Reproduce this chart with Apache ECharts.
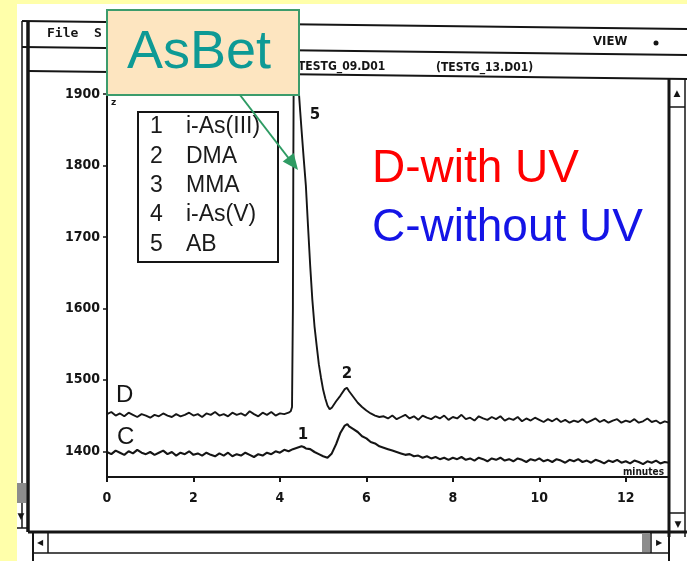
<!DOCTYPE html>
<html>
<head>
<meta charset="utf-8">
<script src="https://cdn.jsdelivr.net/npm/echarts@6/dist/echarts.min.js"></script>
<style>
  html, body { margin: 0; padding: 0; background: #ffffaa; }
  #chart { width: 687px; height: 561px; }
</style>
</head>
<body>
<div id="chart"></div>
<script>
// tick labels
const xTicks = [0, 2, 4, 6, 8, 10, 12]
const yTicks = [1400, 1500, 1600, 1700, 1800, 1900]

// peak list shown in the box
const peakNo = ['1', '2', '3', '4', '5']
const peakName = ['i-As(III)', 'DMA', 'MMA', 'i-As(V)', 'AB']

// trace D (with UV) : [minutes, signal]
const traceD = [
  [0.0, 1452], [0.1, 1455], [0.2, 1450], [0.3, 1453], [0.4, 1449], [0.5, 1454], [0.6, 1451], [0.7, 1448],
  [0.8, 1452], [0.9, 1450], [1.0, 1447], [1.1, 1451], [1.2, 1449], [1.3, 1453], [1.4, 1450], [1.5, 1448],
  [1.6, 1452], [1.7, 1449], [1.8, 1451], [1.9, 1454], [2.0, 1450], [2.1, 1452], [2.2, 1448], [2.3, 1453],
  [2.4, 1451], [2.5, 1455], [2.6, 1450], [2.7, 1452], [2.8, 1449], [2.9, 1454], [3.0, 1451], [3.1, 1453],
  [3.2, 1450], [3.3, 1456], [3.4, 1452], [3.5, 1449], [3.6, 1454], [3.7, 1451], [3.8, 1455], [3.9, 1450],
  [4.0, 1453], [4.1, 1452], [4.2, 1454], [4.25, 1456], [4.28, 1462], [4.30, 1600], [4.31, 1800],
  [4.32, 1950], [4.36, 2010], [4.40, 1960], [4.43, 1910], [4.47, 1875], [4.50, 1850], [4.55, 1810],
  [4.60, 1772], [4.65, 1715], [4.70, 1660], [4.75, 1612], [4.80, 1575], [4.85, 1548], [4.90, 1522],
  [4.95, 1503], [5.00, 1486], [5.05, 1474], [5.10, 1464], [5.15, 1459], [5.20, 1461], [5.30, 1470],
  [5.40, 1478], [5.50, 1487], [5.55, 1489], [5.60, 1484], [5.70, 1476], [5.80, 1468], [5.90, 1462],
  [6.0, 1457], [6.1, 1453], [6.2, 1450], [6.3, 1448], [6.4, 1449], [6.5, 1446], [6.6, 1450], [6.7, 1445],
  [6.8, 1448], [6.9, 1451], [7.0, 1446], [7.1, 1449], [7.2, 1444], [7.3, 1450], [7.4, 1447], [7.5, 1445],
  [7.6, 1449], [7.7, 1446], [7.8, 1450], [7.9, 1444], [8.0, 1448], [8.1, 1446], [8.2, 1451], [8.3, 1445],
  [8.4, 1447], [8.5, 1443], [8.6, 1449], [8.7, 1446], [8.8, 1444], [8.9, 1448], [9.0, 1445], [9.1, 1449],
  [9.2, 1443], [9.3, 1446], [9.4, 1444], [9.5, 1448], [9.6, 1442], [9.7, 1446], [9.8, 1443], [9.9, 1447],
  [10.0, 1444], [10.1, 1441], [10.2, 1445], [10.3, 1442], [10.4, 1446], [10.5, 1441], [10.6, 1444],
  [10.7, 1440], [10.8, 1443], [10.9, 1441], [11.0, 1445], [11.1, 1440], [11.2, 1443], [11.3, 1446],
  [11.4, 1441], [11.5, 1444], [11.6, 1440], [11.7, 1443], [11.8, 1445], [11.9, 1440], [12.0, 1443],
  [12.1, 1441], [12.2, 1445], [12.3, 1440], [12.4, 1442], [12.5, 1446], [12.6, 1441], [12.7, 1443],
  [12.8, 1439], [12.9, 1442], [13.0, 1440]
]

// trace C (without UV)
const traceC = [
  [0.0, 1399], [0.1, 1396], [0.2, 1401], [0.3, 1398], [0.4, 1395], [0.5, 1400], [0.6, 1397], [0.7, 1402],
  [0.8, 1398], [0.9, 1396], [1.0, 1399], [1.1, 1395], [1.2, 1398], [1.3, 1401], [1.4, 1396], [1.5, 1399],
  [1.6, 1394], [1.7, 1398], [1.8, 1396], [1.9, 1400], [2.0, 1395], [2.1, 1397], [2.2, 1394], [2.3, 1398],
  [2.4, 1395], [2.5, 1393], [2.6, 1397], [2.7, 1394], [2.8, 1398], [2.9, 1393], [3.0, 1396], [3.1, 1394],
  [3.2, 1398], [3.3, 1395], [3.4, 1392], [3.5, 1396], [3.6, 1394], [3.7, 1398], [3.8, 1396], [3.9, 1400],
  [4.0, 1398], [4.1, 1402], [4.2, 1400], [4.3, 1403], [4.4, 1405], [4.5, 1407], [4.55, 1406], [4.6, 1404],
  [4.7, 1403], [4.8, 1399], [4.9, 1396], [5.0, 1393], [5.1, 1391], [5.2, 1397], [5.3, 1410], [5.4, 1426],
  [5.5, 1436], [5.56, 1438], [5.6, 1435], [5.7, 1431], [5.8, 1427], [5.9, 1421], [6.0, 1418], [6.1, 1413],
  [6.2, 1411], [6.3, 1407], [6.4, 1405], [6.5, 1403], [6.6, 1401], [6.7, 1399], [6.8, 1397], [6.9, 1395],
  [7.0, 1396], [7.1, 1393], [7.2, 1394], [7.3, 1391], [7.4, 1393], [7.5, 1390], [7.6, 1392], [7.7, 1389],
  [7.8, 1391], [7.9, 1388], [8.0, 1391], [8.1, 1389], [8.2, 1392], [8.3, 1388], [8.4, 1390], [8.5, 1387],
  [8.6, 1391], [8.7, 1389], [8.8, 1386], [8.9, 1390], [9.0, 1388], [9.1, 1391], [9.2, 1387], [9.3, 1389],
  [9.4, 1386], [9.5, 1390], [9.6, 1388], [9.7, 1385], [9.8, 1389], [9.9, 1387], [10.0, 1390], [10.1, 1386],
  [10.2, 1388], [10.3, 1385], [10.4, 1389], [10.5, 1387], [10.6, 1384], [10.7, 1388], [10.8, 1386],
  [10.9, 1389], [11.0, 1385], [11.1, 1387], [11.2, 1384], [11.3, 1388], [11.4, 1386], [11.5, 1383],
  [11.6, 1387], [11.7, 1385], [11.8, 1388], [11.9, 1384], [12.0, 1386], [12.1, 1383], [12.2, 1387],
  [12.3, 1385], [12.4, 1382], [12.5, 1386], [12.6, 1384], [12.7, 1387], [12.8, 1383], [12.9, 1385],
  [13.0, 1384]
]

const ink = '#151515'
const tickFont = 'DejaVu Sans Condensed'

// window frame of the scanned screenshot
const chrome = [
  { type: 'rect', z: -50, shape: { x: 17, y: 4, width: 670, height: 557 }, style: { fill: '#fff' } },
  // left scroll column
  { type: 'line', shape: { x1: 22, y1: 21, x2: 22, y2: 528 }, style: { stroke: ink, lineWidth: 1.5 } },
  { type: 'line', shape: { x1: 28, y1: 21, x2: 28, y2: 532 }, style: { stroke: ink, lineWidth: 3.5 } },
  { type: 'rect', shape: { x: 17, y: 483, width: 9, height: 20 }, style: { fill: '#8c8c8c' } },
  { type: 'line', shape: { x1: 17, y1: 528, x2: 28, y2: 528 }, style: { stroke: ink, lineWidth: 1.5 } },
  { type: 'text', x: 21, y: 517, style: { text: '▼', font: '9px DejaVu Sans', fill: ink, textAlign: 'center', textVerticalAlign: 'middle', align: 'center', verticalAlign: 'middle' } },
  // menu and title rows (scan is slightly tilted)
  { type: 'line', shape: { x1: 22, y1: 21, x2: 687, y2: 29 }, style: { stroke: ink, lineWidth: 2 } },
  { type: 'line', shape: { x1: 22, y1: 47, x2: 687, y2: 55 }, style: { stroke: ink, lineWidth: 2 } },
  { type: 'line', shape: { x1: 28, y1: 71, x2: 687, y2: 79 }, style: { stroke: ink, lineWidth: 2 } },
  { type: 'text', x: 47, y: 34, style: { text: 'File  S', font: 'bold 13px DejaVu Sans Mono', fill: ink, textVerticalAlign: 'middle', verticalAlign: 'middle' } },
  { type: 'text', x: 593, y: 42, style: { text: 'VIEW', font: 'bold 13px DejaVu Sans Condensed', fill: ink, textVerticalAlign: 'middle', verticalAlign: 'middle' } },
  { type: 'circle', shape: { cx: 656, cy: 43, r: 2.5 }, style: { fill: ink } },
  { type: 'text', x: 298, y: 67, style: { text: 'TESTG_09.D01', font: 'bold 12px DejaVu Sans Condensed', fill: ink, textVerticalAlign: 'middle', verticalAlign: 'middle' } },
  { type: 'text', x: 436, y: 68, style: { text: '(TESTG_13.D01)', font: 'bold 12px DejaVu Sans Condensed', fill: ink, textVerticalAlign: 'middle', verticalAlign: 'middle' } },
  // right scroll bar
  { type: 'line', shape: { x1: 669, y1: 79, x2: 669, y2: 537 }, style: { stroke: ink, lineWidth: 3 } },
  { type: 'line', shape: { x1: 685, y1: 79, x2: 685, y2: 537 }, style: { stroke: ink, lineWidth: 1.5 } },
  { type: 'line', shape: { x1: 669, y1: 107, x2: 685, y2: 107 }, style: { stroke: ink, lineWidth: 1.5 } },
  { type: 'text', x: 677, y: 94, style: { text: '▲', font: '9px DejaVu Sans', fill: ink, textAlign: 'center', textVerticalAlign: 'middle', align: 'center', verticalAlign: 'middle' } },
  { type: 'line', shape: { x1: 669, y1: 513, x2: 685, y2: 513 }, style: { stroke: ink, lineWidth: 1.5 } },
  { type: 'text', x: 678, y: 525, style: { text: '▼', font: '9px DejaVu Sans', fill: ink, textAlign: 'center', textVerticalAlign: 'middle', align: 'center', verticalAlign: 'middle' } },
  // bottom scroll bar
  { type: 'line', shape: { x1: 28, y1: 532, x2: 687, y2: 532 }, style: { stroke: ink, lineWidth: 3 } },
  { type: 'line', shape: { x1: 33, y1: 553, x2: 669, y2: 553 }, style: { stroke: ink, lineWidth: 1.5 } },
  { type: 'line', shape: { x1: 33, y1: 532, x2: 33, y2: 561 }, style: { stroke: ink, lineWidth: 2 } },
  { type: 'line', shape: { x1: 48, y1: 532, x2: 48, y2: 553 }, style: { stroke: ink, lineWidth: 1.5 } },
  { type: 'text', x: 40, y: 543, style: { text: '◀', font: '8px DejaVu Sans', fill: ink, textAlign: 'center', textVerticalAlign: 'middle', align: 'center', verticalAlign: 'middle' } },
  { type: 'rect', shape: { x: 642, y: 533, width: 8, height: 19 }, style: { fill: '#8c8c8c' } },
  { type: 'line', shape: { x1: 651, y1: 532, x2: 651, y2: 553 }, style: { stroke: ink, lineWidth: 1.5 } },
  { type: 'text', x: 659, y: 543, style: { text: '▶', font: '8px DejaVu Sans', fill: ink, textAlign: 'center', textVerticalAlign: 'middle', align: 'center', verticalAlign: 'middle' } },
  { type: 'line', shape: { x1: 669, y1: 532, x2: 669, y2: 561 }, style: { stroke: ink, lineWidth: 2 } }
]

function txt(x, y, text, font, fill, align, z) {
  return {
    type: 'text', x: x, y: y, z: z || 60,
    style: { text: text, font: font, fill: fill, textAlign: align || 'left', align: align || 'left', textVerticalAlign: 'middle', verticalAlign: 'middle' }
  }
}

// annotations drawn on the plot
const notes = [
  txt(111, 103, 'z', 'bold 9px DejaVu Sans', ink),
  txt(315, 115, '5', 'bold 15px DejaVu Sans', ink, 'center'),
  txt(347, 374, '2', 'bold 15px DejaVu Sans', ink, 'center'),
  txt(303, 435, '1', 'bold 15px DejaVu Sans', ink, 'center'),
  txt(116, 395, 'D', '24px Liberation Sans', ink),
  txt(117, 437, 'C', '24px Liberation Sans', ink),
  txt(664, 472, 'minutes', 'bold 10px DejaVu Sans Condensed', ink, 'right'),
  txt(372, 169, 'D-with UV', '46px Liberation Sans', '#ff0000'),
  txt(372, 228, 'C-without UV', '46px Liberation Sans', '#1414e6'),
  { type: 'rect', z: 50, shape: { x: 138, y: 112, width: 140, height: 150 }, style: { fill: '#fff', stroke: ink, lineWidth: 2 } },
  // AsBet call-out
  { type: 'rect', z: 80, shape: { x: 107, y: 10, width: 192, height: 85 }, style: { fill: '#fde5c0', stroke: '#3c9c6c', lineWidth: 2 } },
  txt(127, 53, 'AsBet', '54px Liberation Sans', '#0e9a95', 'left', 90),
  { type: 'line', z: 80, shape: { x1: 240, y1: 95, x2: 290, y2: 160 }, style: { stroke: '#2e9b63', lineWidth: 2 } },
  { type: 'polygon', z: 80, shape: { points: [[282.7, 161.6], [293.7, 153.0], [298, 170]] }, style: { fill: '#2e9b63' } }
]
peakNo.forEach(function (n, i) {
  notes.push(txt(150, 127 + i * 29.3, n, '23px Liberation Sans', '#1a1a1a'))
  notes.push(txt(186, 127 + i * 29.3, peakName[i], '23px Liberation Sans', '#1a1a1a'))
})

const option = {
  animation: false,
  backgroundColor: '#ffffaa',
  grid: { left: 107, right: 18, top: 77, bottom: 84, containLabel: false },
  xAxis: {
    type: 'value',
    min: 0,
    max: 13,
    axisLine: { show: true, lineStyle: { color: ink, width: 2 } },
    axisTick: { show: true, length: 5, customValues: xTicks, lineStyle: { color: ink, width: 2 } },
    axisLabel: { customValues: xTicks, margin: 14, color: ink, fontFamily: tickFont, fontWeight: 'bold', fontSize: 14 },
    splitLine: { show: false }
  },
  yAxis: {
    type: 'value',
    min: 1364,
    max: 1924,
    axisLine: { show: true, lineStyle: { color: ink, width: 2 } },
    axisTick: { show: true, length: 4, customValues: yTicks, lineStyle: { color: ink, width: 1.5 } },
    axisLabel: {
      customValues: yTicks,
      margin: 7,
      color: ink,
      fontFamily: tickFont,
      fontWeight: 'bold',
      fontSize: 14,
      formatter: function (v) { return String(v) }
    },
    splitLine: { show: false }
  },
  series: [
    {
      name: 'D',
      type: 'line',
      showSymbol: false,
      clip: true,
      lineStyle: { color: ink, width: 1.9 },
      data: traceD
    },
    {
      name: 'C',
      type: 'line',
      showSymbol: false,
      clip: true,
      lineStyle: { color: ink, width: 2.1 },
      data: traceC
    }
  ],
  graphic: chrome.concat(notes)
}

const myChart = echarts.init(document.getElementById('chart'))
myChart.setOption(option)
</script>
</body>
</html>
